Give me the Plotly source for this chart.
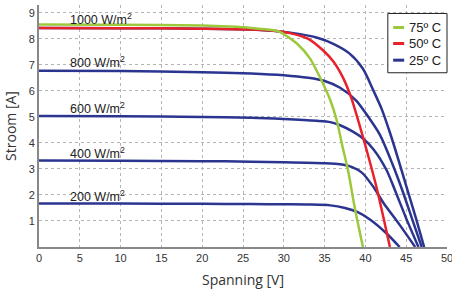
import plotly.graph_objects as go

# ---- data ----
v_1000 = [0, 10, 20, 26, 29, 32, 34, 36, 38, 39.7, 41, 42, 43, 44, 45, 46.2, 47.2]
i_1000 = [8.42, 8.41, 8.39, 8.36, 8.3, 8.18, 8.05, 7.82, 7.45, 6.85, 6.0, 5.3, 4.4, 3.4, 2.35, 1.1, 0]

v_800 = [0, 10, 20, 26, 30, 33, 35, 36.9, 38.9, 40.2, 41.8, 43.3, 44.5, 45.7, 46.9]
i_800 = [6.77, 6.76, 6.72, 6.67, 6.6, 6.5, 6.38, 6.12, 5.62, 5.07, 4.3, 3.2, 2.2, 1.1, 0]

v_600 = [0, 10, 20, 26, 30, 34, 35.7, 36.9, 38.3, 39.7, 41.0, 42.6, 43.6, 45.0, 46.5]
i_600 = [5.03, 5.02, 5.0, 4.97, 4.92, 4.85, 4.8, 4.68, 4.46, 4.17, 3.75, 2.95, 2.2, 1.1, 0]

v_400 = [0, 10, 20, 26, 30, 35, 36.9, 38.3, 39.6, 41.0, 42.2, 44.2, 46.1]
i_400 = [3.32, 3.31, 3.3, 3.28, 3.26, 3.22, 3.18, 3.08, 2.85, 2.3, 1.7, 0.85, 0]

v_200 = [0, 10, 20, 26, 30, 33.2, 35.7, 37.5, 39.0, 40.6, 42.6, 44.2]
i_200 = [1.67, 1.67, 1.66, 1.65, 1.64, 1.63, 1.6, 1.5, 1.35, 1.05, 0.52, 0]

v_50c = [0, 10, 20, 26, 29, 31, 33, 34.8, 36.1, 37.3, 38.3, 39.7, 40.6, 41.4, 42.2, 43.0]
i_50c = [8.42, 8.41, 8.39, 8.36, 8.3, 8.2, 8.0, 7.56, 7.12, 6.48, 5.7, 4.23, 3.21, 2.25, 1.15, 0]

v_75c = [0, 10, 20, 23.4, 26, 28.7, 29.5, 31.6, 33.2, 34.4, 35.7, 36.5, 37.2, 37.9, 38.7, 39.7]
i_75c = [8.55, 8.54, 8.51, 8.47, 8.42, 8.33, 8.27, 7.82, 7.25, 6.54, 5.64, 4.85, 3.85, 2.9, 1.5, 0]

irr_labels = ["1000 W/m<sup>2</sup>", "800 W/m<sup>2</sup>", "600 W/m<sup>2</sup>",
              "400 W/m<sup>2</sup>", "200 W/m<sup>2</sup>"]
irr_label_y = [8.76, 7.1, 5.33, 3.63, 1.96]
legend_names = ["75º C", "50º C", "25º C"]

x_ticks = [0, 5, 10, 15, 20, 25, 30, 35, 40, 45, 50]
y_ticks = [1, 2, 3, 4, 5, 6, 7, 8, 9]

GREEN = "#9cc93b"
RED = "#e8212b"
BLUE = "#2b3590"

fig = go.Figure()
for vv, ii in [(v_1000, i_1000), (v_800, i_800), (v_600, i_600), (v_400, i_400), (v_200, i_200)]:
    fig.add_trace(go.Scatter(x=vv, y=ii, mode="lines", showlegend=False,
                             line=dict(color=BLUE, width=2.5, shape="spline", smoothing=0.7)))
fig.add_trace(go.Scatter(x=v_50c, y=i_50c, mode="lines", showlegend=False,
                         line=dict(color=RED, width=2.5, shape="spline", smoothing=0.7)))
fig.add_trace(go.Scatter(x=v_75c, y=i_75c, mode="lines", showlegend=False,
                         line=dict(color=GREEN, width=2.5, shape="spline", smoothing=0.7)))

for txt, yy in zip(irr_labels, irr_label_y):
    fig.add_annotation(x=3.6, y=yy, text=txt, showarrow=False, xanchor="left", yanchor="middle",
                       font=dict(family="Liberation Sans, Arial", size=12.5, color="#222"))

# manual legend box
fig.add_shape(type="rect", xref="paper", yref="paper", x0=0.855, x1=1.0, y0=0.72, y1=0.965,
              line=dict(color="#222", width=1), fillcolor="white", layer="above")
leg_y = [0.907, 0.841, 0.772]
for name, col, yy in zip(legend_names, [GREEN, RED, BLUE], leg_y):
    fig.add_shape(type="line", xref="paper", yref="paper", x0=0.868, x1=0.895, y0=yy, y1=yy,
                  line=dict(color=col, width=3), layer="above")
    fig.add_annotation(xref="paper", yref="paper", x=0.902, y=yy, text=name, showarrow=False,
                       xanchor="left", yanchor="middle",
                       font=dict(family="Liberation Sans, Arial", size=13, color="#222"))

fig.update_layout(
    width=452, height=291,
    margin=dict(l=39, r=5, t=5, b=44),
    paper_bgcolor="white", plot_bgcolor="white",
    xaxis=dict(range=[0, 50], tickvals=x_ticks, showgrid=True, gridcolor="#b5b5b5", griddash="dot",
               gridwidth=1, showline=True, linecolor="#888", linewidth=2, zeroline=False,
               ticks="", automargin=False, ticklabeloverflow="allow",
               tickfont=dict(family="Liberation Sans, Arial", size=11, color="#333"),
               title=dict(text="Spanning [V]", font=dict(family="Open Sans", size=14, color="#333"),
                          standoff=12)),
    yaxis=dict(range=[0, 9.3], tickvals=y_ticks, showgrid=True, gridcolor="#b5b5b5", griddash="dot",
               gridwidth=1, showline=True, linecolor="#888", linewidth=2, zeroline=False,
               ticks="", automargin=False,
               tickfont=dict(family="Liberation Sans, Arial", size=11, color="#333"),
               title=dict(text="Stroom [A]", font=dict(family="Open Sans", size=14, color="#333"),
                          standoff=9)),
)

fig.write_html("out.html", config={"displayModeBar": False},
               post_script="document.body.style.margin='0';")
